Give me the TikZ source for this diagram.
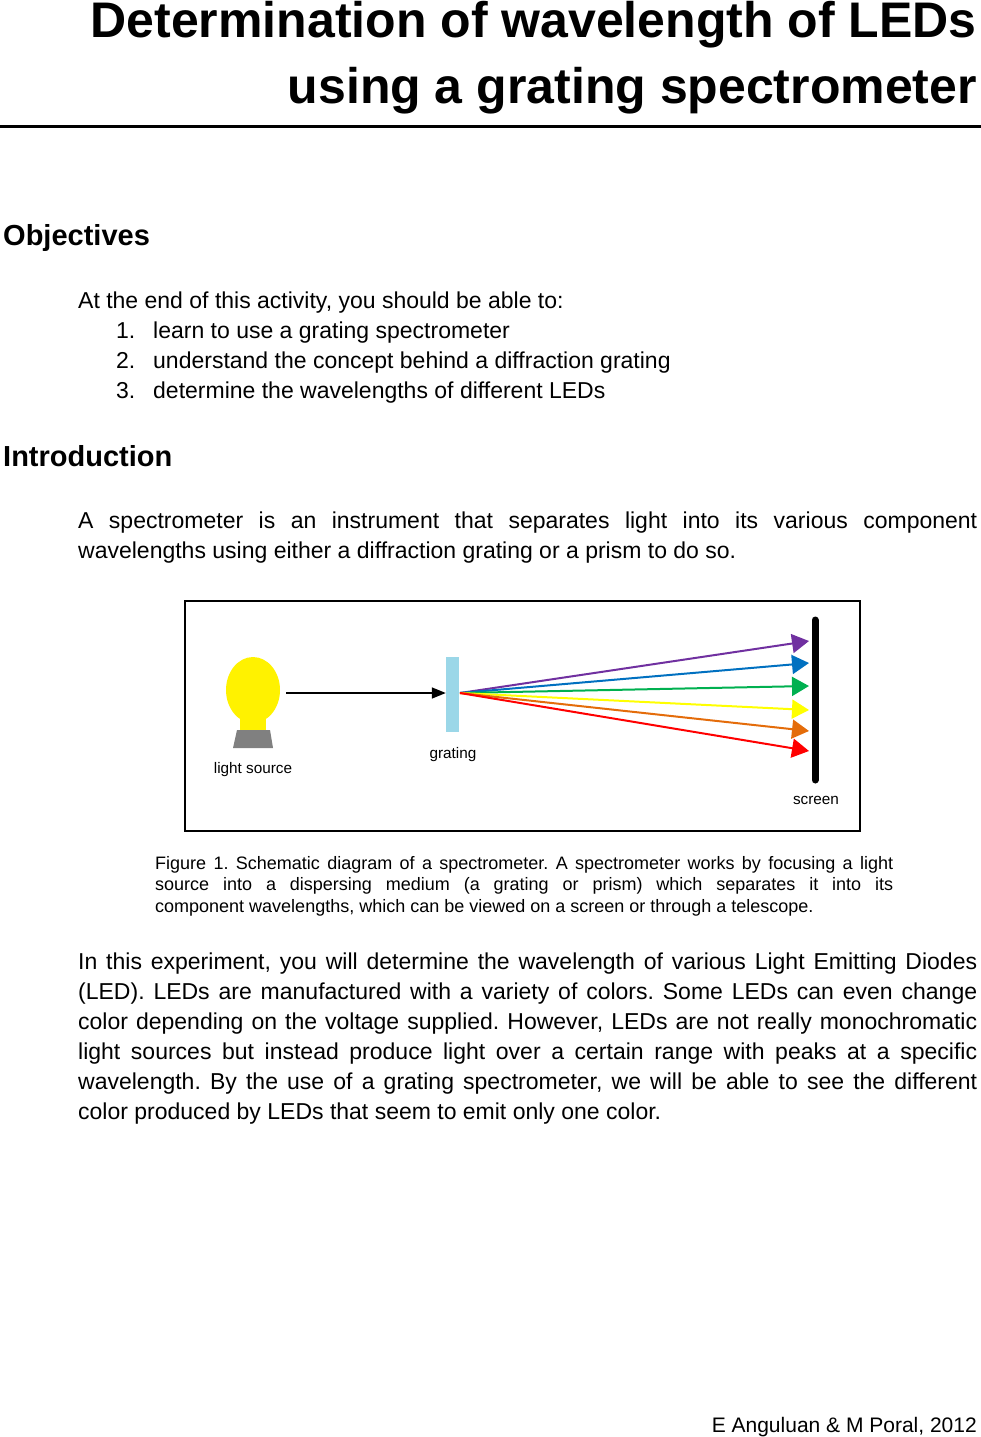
\documentclass[tikz,border=0pt]{standalone}
\usepackage{fontspec}
\setmainfont{Liberation Sans}
\usetikzlibrary{arrows.meta,positioning}
\definecolor{raypurple}{RGB}{112,48,160}
\definecolor{rayblue}{RGB}{0,112,192}
\definecolor{raygreen}{RGB}{0,176,80}
\definecolor{rayyellow}{RGB}{255,255,0}
\definecolor{rayorange}{RGB}{228,108,10}
\definecolor{gratingblue}{RGB}{155,215,232}
\frenchspacing
\hyphenpenalty=10000
\tikzset{
  body/.style={anchor=base west,inner sep=0pt,font=\fontsize{23}{30}\selectfont},
  para/.style={body,text width=899pt,align=justify},
  heading/.style={anchor=base west,inner sep=0pt,font=\fontsize{29}{32}\selectfont\bfseries},
  figlabel/.style={inner sep=0pt,font=\fontsize{15.3}{17}\selectfont},
  ray/.style={line width=2pt,-{Triangle[length=17pt,width=19pt]}}
}
\begin{document}
\begin{tikzpicture}[x=1pt,y=-1pt]
  \useasboundingbox (0,0) rectangle (981,1437);

  % Title and rule.
  \node[anchor=base east,inner sep=0pt,align=right,font=\fontsize{50}{66}\selectfont\bfseries]
    (title) at (977,103) {Determination of wavelength of LEDs\\using a grating spectrometer};
  \draw[line width=3pt] (0,126) -- (981,126);

  % Objectives.
  \node[heading] (objhead) at (3,245) {Objectives};
  \node[body] (objintro) at (78,308) {At the end of this activity, you should be able to:};
  \foreach \n/\txt [count=\i] in {1/learn to use a grating spectrometer,
      2/understand the concept behind a diffraction grating,
      3/determine the wavelengths of different LEDs}{
    \node[body] (num\i) at (116,308+30*\i) {\n.};
    \node[body] (item\i) at (153,308+30*\i) {\txt};
  }

  % Introduction.
  \node[heading] (introhead) at (3,466) {Introduction};
  \node[para] (intro) at (78,528) {A spectrometer is an instrument that separates light into its various component\linebreak wavelengths using either a diffraction grating or a prism to do so.};

  % Figure frame.
  \draw[line width=1.3pt] (185,601) rectangle (860,831);

  % Light source.
  \fill[yellow] (240,712) rectangle (266,731);
  \fill[yellow] (253,690) ellipse [x radius=27, y radius=33];
  \fill[gray] (237,730) -- (270,730) -- (273,748) -- (233,748) -- cycle;
  \coordinate (src) at (286,693);
  \node[figlabel] (srclabel) at (253,770) {light source};

  % Grating.
  \node[fill=gratingblue,minimum width=13pt,minimum height=75pt,inner sep=0pt] (grating) at (452.5,694.5) {};
  \coordinate (g) at (460,693);
  \node[figlabel] (gratlabel) at (453,755) {grating};
  \draw[line width=1.5pt,-{Triangle[length=14pt,width=11pt]}] (src) -- (grating.west |- src);

  % Screen.
  \draw[line width=7pt,line cap=round] (815,620) -- (815,780);
  \node[figlabel] (scrlabel) at (816,800) {screen};

  % Rays.
  \foreach \c/\y in {raypurple/641,rayblue/663,raygreen/686,rayyellow/710,rayorange/731,red/751}{
    \coordinate (hit\c) at (809,\y);
    \draw[ray,\c] (g) -- (hit\c);
  }

  % Caption.
  \node[anchor=base west,inner sep=0pt,text width=738pt,align=justify,
        font=\fontsize{18}{21.5}\selectfont] (caption) at (155,869)
    {Figure 1. Schematic diagram of a spectrometer. A spectrometer works by focusing a light\linebreak source into a dispersing medium (a grating or prism) which separates it into its\linebreak component wavelengths, which can be viewed on a screen or through a telescope.};

  % Second paragraph.
  \node[para] (experiment) at (78,969) {In this experiment, you will determine the wavelength of various Light Emitting Diodes\linebreak (LED). LEDs are manufactured with a variety of colors. Some LEDs can even change\linebreak color depending on the voltage supplied. However, LEDs are not really monochromatic\linebreak light sources but instead produce light over a certain range with peaks at a specific\linebreak wavelength. By the use of a grating spectrometer, we will be able to see the different\linebreak color produced by LEDs that seem to emit only one color.};

  % Footer.
  \node[anchor=base east,inner sep=0pt,font=\fontsize{21}{30}\selectfont] (footer) at (977,1432) {E Anguluan \& M Poral, 2012};
\end{tikzpicture}
\end{document}
